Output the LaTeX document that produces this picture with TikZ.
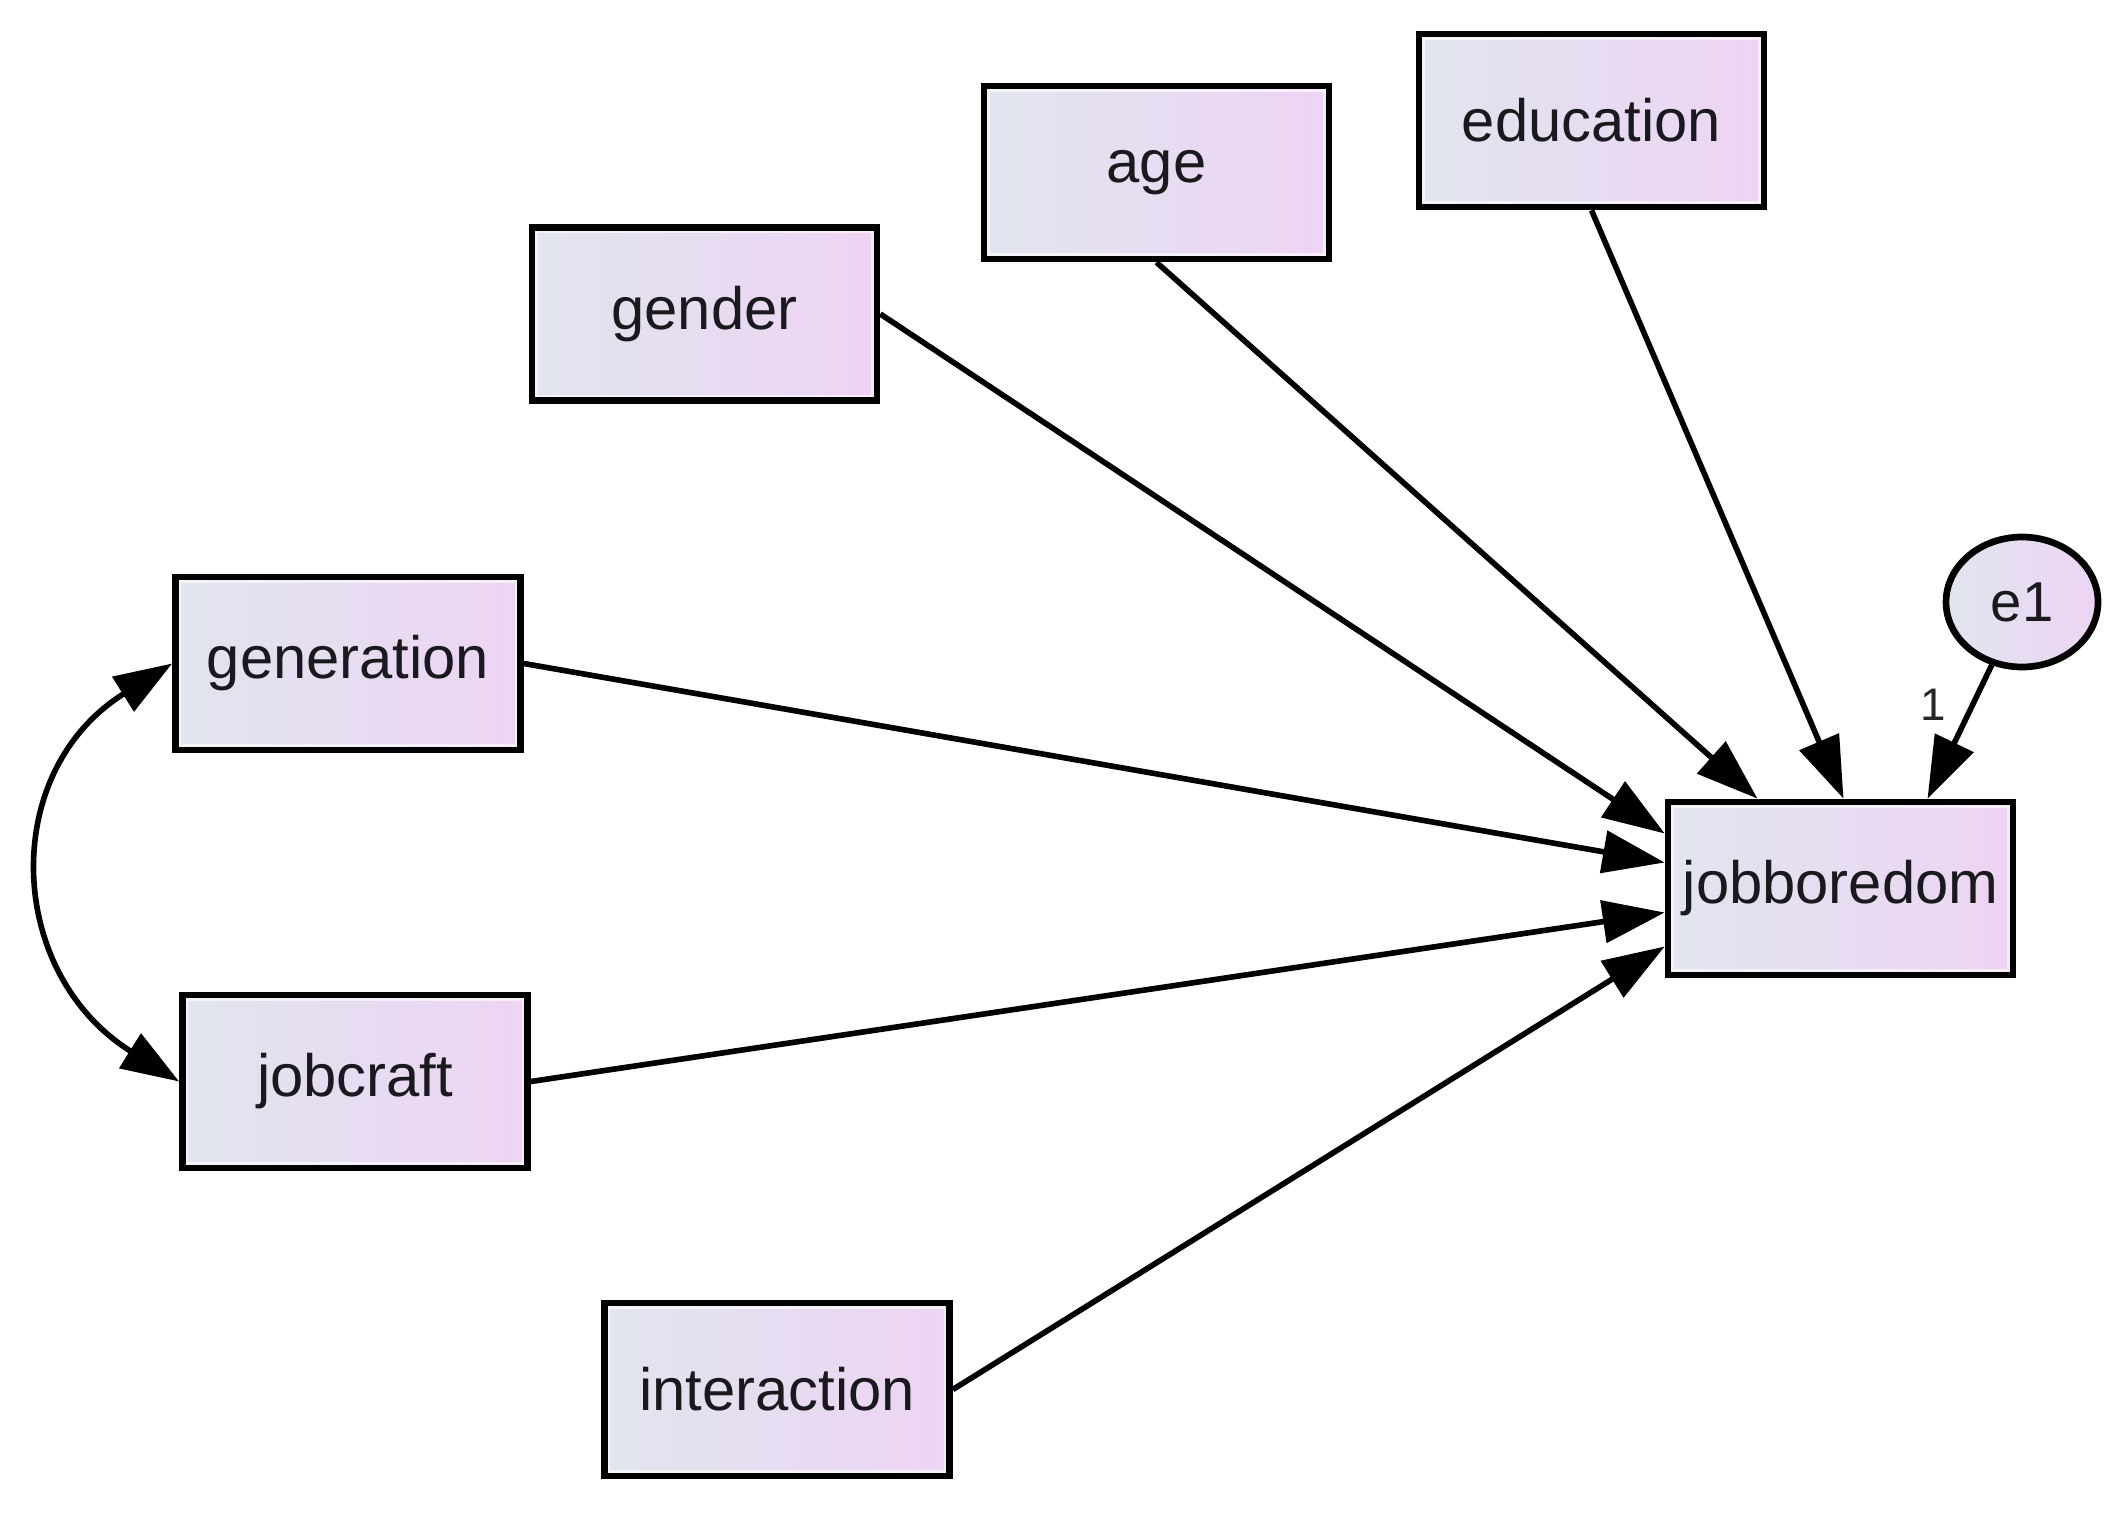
\documentclass[tikz,border=0pt]{standalone}
\usepackage{fontspec}
\setmainfont{Liberation Sans}
\usetikzlibrary{arrows.meta,shapes.geometric,calc}
\definecolor{boxL}{RGB}{225,229,238}
\definecolor{boxR}{RGB}{237,212,243}
\definecolor{txt}{RGB}{25,25,30}
\tikzset{
  var/.style={rectangle, draw=black, line width=1.9pt, left color=boxL, right color=boxR,
    minimum width=3.45cm, minimum height=1.73cm, inner sep=0pt, text=txt,
    font=\fontsize{17}{20}\selectfont},
  err/.style={ellipse, draw=black, line width=1.9pt, left color=boxL, right color=boxR,
    minimum width=1.52cm, minimum height=1.30cm, inner sep=0pt, text=txt,
    font=\fontsize{16}{18}\selectfont},
  path/.style={line width=1.6pt, -{Triangle[length=0.62cm,width=0.42cm]}},
  cov/.style={line width=1.6pt, {Triangle[length=0.58cm,width=0.40cm]}-{Triangle[length=0.58cm,width=0.40cm]}},
  wlab/.style={font=\fontsize{13}{15}\selectfont, text=black!85, inner sep=0pt}
}
\begin{document}
\begin{tikzpicture}
\useasboundingbox (0,0) rectangle (21.28,-15.13);
\node[var] (gender) at (7.045,-3.14) {gender};
\node[var] (age) at (11.565,-1.725) {age};
\node[var] (education) at (15.915,-1.205) {education};
\node[var] (generation) at (3.48,-6.635) {generation};
\node[var] (jobcraft) at (3.55,-10.815) {jobcraft};
\node[var] (interaction) at (7.77,-13.895) {interaction};
\node[var] (jobboredom) at (18.405,-8.885) {jobboredom};
\node[err] (e1) at (20.22,-6.02) {e1};
\node[wlab] (w1) at (19.33,-7.05) {1};

\foreach \n in {gender,age,education,generation,jobcraft,interaction,jobboredom}{
  \draw[white, opacity=0.6, line width=0.7pt] ($(\n.south west)+(0.08,0.08)$) rectangle ($(\n.north east)-(0.08,0.08)$);
}

\draw[path] (gender.east) -- ($(jobboredom.west)+(0,0.55)$);
\draw[path] (generation.east) -- ($(jobboredom.west)+(0,0.26)$);
\draw[path] (jobcraft.east) -- ($(jobboredom.west)+(0,-0.24)$);
\draw[path] (interaction.east) -- ($(jobboredom.west)+(0,-0.58)$);
\draw[path] (age.south) -- ($(jobboredom.north)+(-0.83,0)$);
\draw[path] (education.south) -- ($(jobboredom.north)+(0.03,0)$);
\draw[path] (e1) -- ($(jobboredom.north)+(0.87,0)$);
\draw[cov] (generation.west) to[out=212,in=148,looseness=1.25] (jobcraft.west);
\end{tikzpicture}
\end{document}
